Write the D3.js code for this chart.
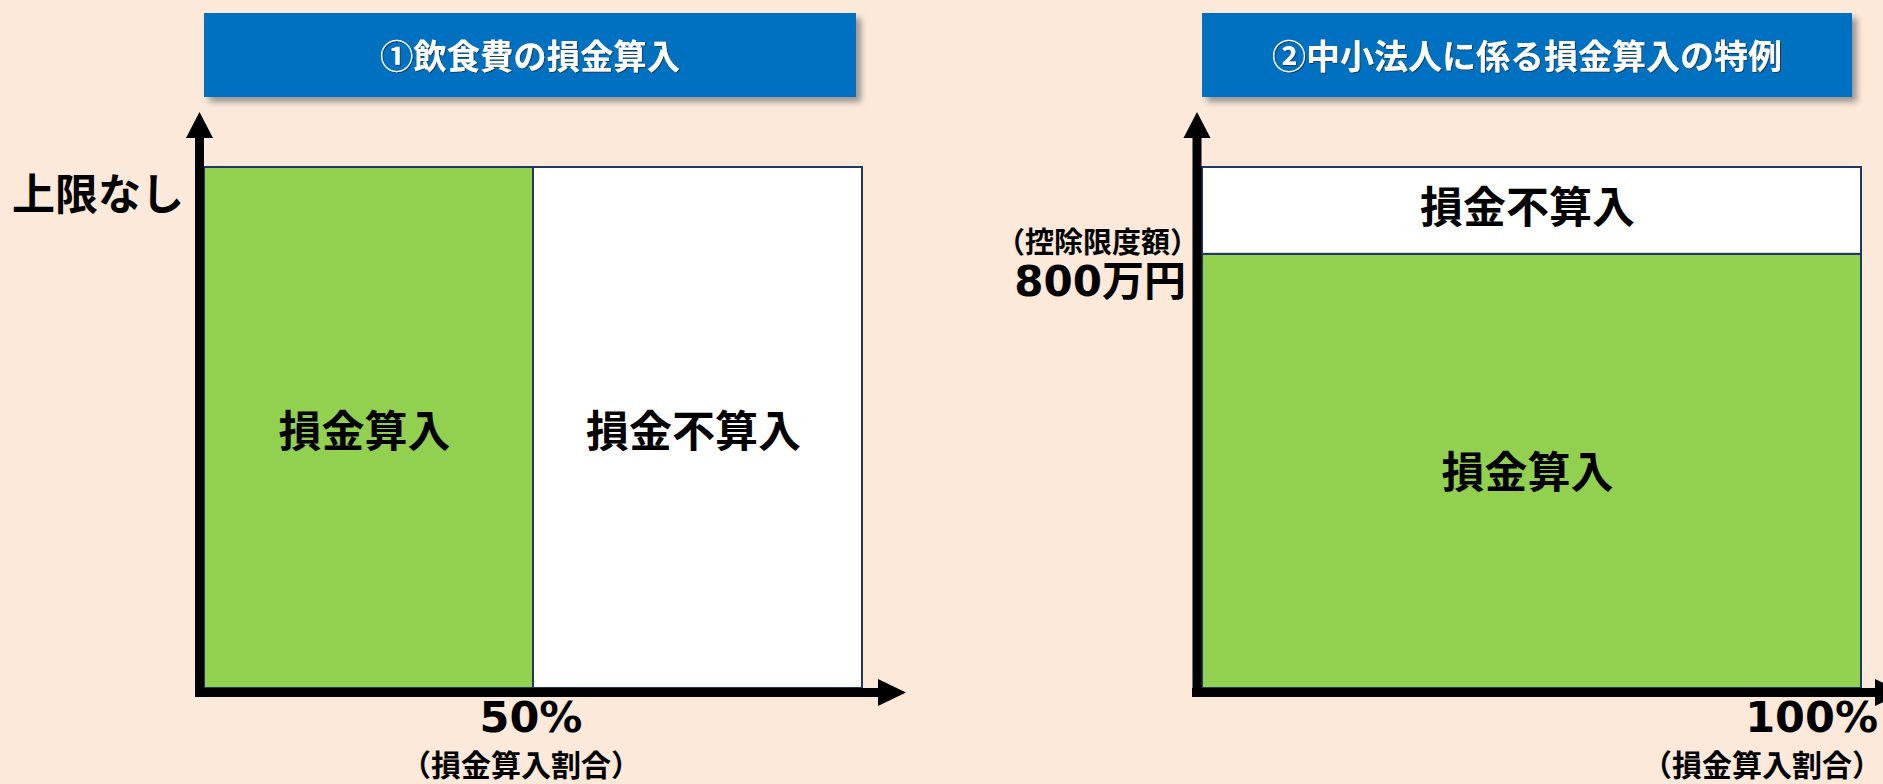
<!DOCTYPE html>
<html><head><meta charset="utf-8">
<script src="https://cdn.jsdelivr.net/npm/d3@7"></script>
<style>
html,body{margin:0;padding:0;background:#FDE9D9;}
svg{display:block;}
</style></head>
<body>
<script>
// ---- data ----
const titles = ["①飲食費の損金算入", "②中小法人に係る損金算入の特例"];
// chart 1: split along x (損金算入割合, %)
const segments1 = [
  {label: "損金算入", x0: 0, x1: 50, fill: "green"},
  {label: "損金不算入", x0: 50, x1: 100, fill: "white"}
];
const xTick1 = [50];
const yLabel1 = "上限なし";
// chart 2: split along y (控除限度額, 万円)
const yMax2 = 960;
const limit2 = 800;
const segments2 = [
  {label: "損金算入", y0: 0, y1: limit2, fill: "green"},
  {label: "損金不算入", y0: limit2, y1: yMax2, fill: "white"}
];
const xTick2 = [100];
const yTickLabel2 = ["（控除限度額）", "800万円"];
const xAxisTitle = "（損金算入割合）";

const W = 1883, H = 784;
const BG = "#FDE9D9", GREEN = "#92D050", BLUE = "#0070C0", NAVY = "#1F3864";
const CJK = "'Noto Sans CJK JP', sans-serif";
const NUM = "'DejaVu Sans', 'Noto Sans CJK JP', sans-serif";
const fillOf = f => f === "green" ? GREEN : "#FFFFFF";

const svg = d3.select("body").append("svg").attr("width", W).attr("height", H);
svg.append("rect").attr("width", W).attr("height", H).attr("fill", BG);

const defs = svg.append("defs");
const sh = defs.append("filter").attr("id", "shadow").attr("x", "-5%").attr("y", "-10%").attr("width", "115%").attr("height", "130%");
sh.append("feDropShadow").attr("dx", 5).attr("dy", 5).attr("stdDeviation", 3).attr("flood-color", "#7f7f7f").attr("flood-opacity", 0.8);
const tsh = defs.append("filter").attr("id", "tshadow");
tsh.append("feDropShadow").attr("dx", 1).attr("dy", 1).attr("stdDeviation", 0.6).attr("flood-color", "#203040").attr("flood-opacity", 0.8);

// title boxes
const titleBoxes = [{x: 204, w: 652, tl: 300}, {x: 1202, w: 650, tl: 510}];
titles.forEach((t, i) => {
  const b = titleBoxes[i];
  svg.append("rect").attr("x", b.x).attr("y", 13).attr("width", b.w).attr("height", 84)
    .attr("fill", BLUE).attr("filter", "url(#shadow)");
  svg.append("text").attr("x", b.x + b.w / 2).attr("y", 54)
    .attr("text-anchor", "middle").attr("dominant-baseline", "central")
    .attr("font-family", CJK).attr("font-weight", 700).attr("font-size", 34)
    .attr("textLength", b.tl).attr("lengthAdjust", "spacingAndGlyphs")
    .attr("fill", "#fff").attr("filter", "url(#tshadow)").text(t);
});

// arrows / axes
function axes(xAxisX, yAxisY, xLeft, yBottom, xEnd, yTop) {
  const g = svg.append("g");
  g.append("rect").attr("x", xAxisX - 4.5).attr("y", yTop + 26).attr("width", 9).attr("height", yBottom - yTop - 26)
    .attr("fill", "#000");
  g.append("path").attr("d", `M${xAxisX - 13.5},${yTop + 26}L${xAxisX + 13.5},${yTop + 26}L${xAxisX},${yTop}Z`).attr("fill", "#000");
  g.append("rect").attr("x", xLeft).attr("y", yAxisY - 4.5).attr("width", xEnd - 28 - xLeft).attr("height", 9)
    .attr("fill", "#000");
  g.append("path").attr("d", `M${xEnd - 28},${yAxisY - 13.5}L${xEnd - 28},${yAxisY + 13.5}L${xEnd},${yAxisY}Z`).attr("fill", "#000");
}

// ---- chart 1 ----
const x1 = d3.scaleLinear().domain([0, 100]).range([204, 862]);
const y1 = d3.scaleLinear().domain([0, 1]).range([688, 167]);
const g1 = svg.append("g");
g1.selectAll("rect.seg").data(segments1).join("rect").attr("class", "seg")
  .attr("x", d => x1(d.x0)).attr("width", d => x1(d.x1) - x1(d.x0))
  .attr("y", y1(1)).attr("height", y1(0) - y1(1))
  .attr("fill", d => fillOf(d.fill)).attr("stroke", NAVY).attr("stroke-width", 2);
g1.selectAll("text.seg").data(segments1).join("text").attr("class", "seg")
  .attr("x", d => (x1(d.x0) + x1(d.x1)) / 2 - 4).attr("y", (y1(0) + y1(1)) / 2)
  .attr("text-anchor", "middle").attr("dominant-baseline", "central")
  .attr("font-family", CJK).attr("font-weight", 700).attr("font-size", 43).attr("fill", "#000")
  .text(d => d.label);
axes(199.5, 692.5, 195, 697, 906, 112);
svg.append("text").attr("x", 184).attr("y", y1(1) + 24).attr("text-anchor", "end").attr("dominant-baseline", "central")
  .attr("font-family", CJK).attr("font-weight", 700).attr("font-size", 43).text(yLabel1);
xTick1.forEach(v => {
  svg.append("text").attr("x", x1(v) - 2).attr("y", 717).attr("text-anchor", "middle").attr("dominant-baseline", "central")
    .attr("font-family", NUM).attr("font-weight", 700).attr("font-size", 43).text(v + "%");
  svg.append("text").attr("x", x1(v) - 12).attr("y", 763).attr("text-anchor", "middle").attr("dominant-baseline", "central")
    .attr("font-family", CJK).attr("font-weight", 700).attr("font-size", 30).text(xAxisTitle);
});

// ---- chart 2 ----
const x2 = d3.scaleLinear().domain([0, 100]).range([1202, 1861]);
const y2 = d3.scaleLinear().domain([0, yMax2]).range([688, 167]);
const g2 = svg.append("g");
g2.selectAll("rect.seg").data(segments2).join("rect").attr("class", "seg")
  .attr("x", x2(0)).attr("width", x2(100) - x2(0))
  .attr("y", d => y2(d.y1)).attr("height", d => y2(d.y0) - y2(d.y1))
  .attr("fill", d => fillOf(d.fill)).attr("stroke", NAVY).attr("stroke-width", 2);
g2.selectAll("text.seg").data(segments2).join("text").attr("class", "seg")
  .attr("x", (x2(0) + x2(100)) / 2 - 4).attr("y", d => (y2(d.y0) + y2(d.y1)) / 2 + (d.fill === "white" ? -6 : -2))
  .attr("text-anchor", "middle").attr("dominant-baseline", "central")
  .attr("font-family", CJK).attr("font-weight", 700).attr("font-size", 43).attr("fill", "#000")
  .text(d => d.label);
axes(1197, 692.5, 1192, 697, 1903, 112);
svg.append("text").attr("x", 1199).attr("y", y2(limit2) - 14).attr("text-anchor", "end").attr("dominant-baseline", "central")
  .attr("font-family", CJK).attr("font-weight", 700).attr("font-size", 29).text(yTickLabel2[0]);
svg.append("text").attr("x", 1186).attr("y", y2(limit2) + 28).attr("text-anchor", "end").attr("dominant-baseline", "central")
  .attr("font-family", NUM).attr("font-weight", 700).attr("font-size", 42).text(yTickLabel2[1]);
xTick2.forEach(v => {
  svg.append("text").attr("x", x2(v) + 17).attr("y", 717).attr("text-anchor", "end").attr("dominant-baseline", "central")
    .attr("font-family", NUM).attr("font-weight", 700).attr("font-size", 43).text(v + "%");
  svg.append("text").attr("x", x2(v) + 21).attr("y", 763).attr("text-anchor", "end").attr("dominant-baseline", "central")
    .attr("font-family", CJK).attr("font-weight", 700).attr("font-size", 30).text(xAxisTitle);
});
</script>
</body></html>
